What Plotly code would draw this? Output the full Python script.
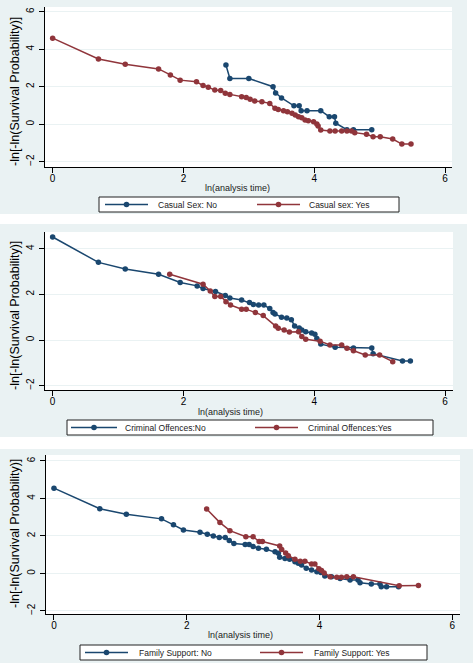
import plotly.graph_objects as go

# ---------------- data ----------------
# Panel 1: Casual sex
cs_no_x = [2.65, 2.71, 3.00, 3.37, 3.41, 3.50, 3.69, 3.77, 3.80, 3.89, 4.10, 4.23, 4.31, 4.33, 4.50, 4.60, 4.88]
cs_no_y = [3.16, 2.44, 2.44, 2.00, 1.67, 1.40, 0.98, 0.98, 0.72, 0.72, 0.72, 0.40, 0.40, 0.05, -0.29, -0.29, -0.29]
cs_yes_x = [0, 0.70, 1.11, 1.62, 1.80, 1.95, 2.20, 2.30, 2.38, 2.48, 2.57, 2.64, 2.71, 2.89, 2.96, 3.02, 3.09,
            3.20, 3.32, 3.40, 3.45, 3.53, 3.59, 3.66, 3.71, 3.76, 3.81, 3.86, 3.91, 3.99, 4.04, 4.06, 4.10,
            4.24, 4.32, 4.42, 4.50, 4.57, 4.62, 4.80, 4.90, 5.01, 5.20, 5.34, 5.48]
cs_yes_y = [4.59, 3.48, 3.20, 2.95, 2.63, 2.35, 2.26, 2.06, 1.97, 1.82, 1.80, 1.65, 1.59, 1.47, 1.43, 1.33, 1.24,
            1.20, 1.11, 0.85, 0.79, 0.72, 0.67, 0.58, 0.49, 0.40, 0.35, 0.22, 0.19, 0.13, 0.01, -0.10, -0.31,
            -0.36, -0.36, -0.36, -0.36, -0.36, -0.45, -0.54, -0.67, -0.67, -0.79, -1.06, -1.06]

# Panel 2: Criminal offences
co_no_x = [0, 0.70, 1.11, 1.62, 1.95, 2.21, 2.30, 2.49, 2.64, 2.71, 2.89, 3.01, 3.07, 3.15, 3.23, 3.32, 3.37,
           3.40, 3.50, 3.58, 3.65, 3.70, 3.77, 3.81, 3.87, 3.96, 4.01, 4.04, 4.10, 4.32, 4.60, 4.88, 4.90,
           5.35, 5.47]
co_no_y = [4.51, 3.40, 3.11, 2.88, 2.52, 2.37, 2.25, 2.12, 1.95, 1.84, 1.75, 1.64, 1.56, 1.53, 1.53, 1.38, 1.20,
           1.14, 1.00, 0.96, 0.89, 0.61, 0.52, 0.44, 0.36, 0.31, 0.25, 0.07, -0.18, -0.32, -0.35, -0.35, -0.60,
           -0.92, -0.92]
co_yes_x = [1.79, 2.30, 2.41, 2.48, 2.57, 2.65, 2.72, 2.89, 2.96, 3.10, 3.22, 3.41, 3.45, 3.54, 3.62, 3.76,
            3.81, 3.87, 4.09, 4.24, 4.42, 4.50, 4.60, 4.78, 5.00, 5.20]
co_yes_y = [2.88, 2.44, 2.15, 1.90, 1.90, 1.68, 1.53, 1.35, 1.35, 1.20, 1.07, 0.61, 0.51, 0.44, 0.35, 0.36,
            0.15, 0.03, -0.05, -0.22, -0.22, -0.36, -0.47, -0.66, -0.66, -0.95]

# Panel 3: Family support
fs_no_x = [0, 0.69, 1.09, 1.62, 1.80, 1.95, 2.20, 2.31, 2.40, 2.49, 2.58, 2.64, 2.71, 2.88, 2.94, 3.00, 3.08,
           3.20, 3.33, 3.38, 3.40, 3.48, 3.55, 3.63, 3.68, 3.73, 3.80, 3.88, 3.96, 4.02, 4.08, 4.18, 4.31,
           4.46, 4.58, 4.61, 4.78, 4.91, 4.93, 5.01, 5.19]
fs_no_y = [4.55, 3.45, 3.16, 2.91, 2.59, 2.32, 2.20, 2.09, 2.00, 1.91, 1.91, 1.75, 1.59, 1.54, 1.54, 1.43, 1.34,
           1.29, 1.16, 1.07, 0.86, 0.80, 0.75, 0.62, 0.54, 0.45, 0.27, 0.18, 0.09, 0.04, -0.14, -0.18, -0.27,
           -0.36, -0.36, -0.50, -0.57, -0.57, -0.71, -0.71, -0.71]
fs_yes_x = [2.30, 2.50, 2.65, 2.89, 3.00, 3.09, 3.14, 3.40, 3.43, 3.49, 3.53, 3.63, 3.71, 3.78, 3.88, 3.93,
            3.99, 4.03, 4.07, 4.16, 4.26, 4.33, 4.41, 4.51, 5.20, 5.49]
fs_yes_y = [3.44, 2.71, 2.28, 1.96, 1.96, 1.70, 1.70, 1.46, 1.27, 1.09, 0.94, 0.76, 0.64, 0.64, 0.50, 0.50,
            0.25, 0.15, 0.02, -0.18, -0.21, -0.21, -0.18, -0.18, -0.66, -0.65]

x_ticks = [0, 2, 4, 6]
y_ticks_a = [-2, 0, 2, 4, 6]
y_ticks_b = [-2, 0, 2, 4]

NAVY = "#1A476F"
MAROON = "#90353B"
BG = "#EAF2F3"
FONT = "Liberation Sans, Arial, sans-serif"

W, H = 473, 663


def px(x):
    return x / W


def py(y):
    return 1 - y / H


fig = go.Figure()

panels = [
    dict(ax="", no=(cs_no_x, cs_no_y, "Casual Sex: No"), yes=(cs_yes_x, cs_yes_y, "Casual sex: Yes"),
         xdom=(45, 452), ydom=(7, 167), xr=(-0.117, 6.107), yr=(-2.283, 6.251), yt=y_ticks_a,
         box=(99, 399, 197, 212), items=((105, 148, 156), (257, 300, 307)),
         ytitle_y=92, xtitle=(237, 188)),
    dict(ax="2", no=(co_no_x, co_no_y, "Criminal Offences:No"), yes=(co_yes_x, co_yes_y, "Criminal Offences:Yes"),
         xdom=(45, 453), ydom=(232, 390), xr=(-0.117, 6.122), yr=(-2.19, 4.73), yt=y_ticks_b,
         box=(67, 433, 420, 435), items=((71, 117, 123), (255, 298, 306)),
         ytitle_y=316, xtitle=(230, 412)),
    dict(ax="3", no=(fs_no_x, fs_no_y, "Family Support: No"), yes=(fs_yes_x, fs_yes_y, "Family Support: Yes"),
         xdom=(46, 460), ydom=(455, 614), xr=(-0.12, 6.116), yr=(-2.17, 6.32), yt=y_ticks_a,
         box=(80, 427, 645, 660), items=((85, 128, 137), (260, 303, 312)),
         ytitle_y=534, xtitle=(240, 635)),
]

shapes = []
# white gaps between the three panels and right edge
for y0, y1 in ((214, 224), (437, 449)):
    shapes.append(dict(type="rect", xref="paper", yref="paper", x0=0, x1=1, y0=py(y1), y1=py(y0),
                       fillcolor="#fff", line=dict(width=0), layer="below"))
shapes.append(dict(type="rect", xref="paper", yref="paper", x0=px(467), x1=1, y0=py(449), y1=1,
                   fillcolor="#fff", line=dict(width=0), layer="below"))

annotations = []
layout_axes = {}
for p in panels:
    a = p["ax"]
    for (xs, ys, name), col in ((p["no"], NAVY), (p["yes"], MAROON)):
        fig.add_trace(go.Scatter(
            x=xs, y=ys, name=name, mode="lines+markers",
            line=dict(color=col, width=1.5),
            marker=dict(color=col, size=5.5, symbol="circle"),
            xaxis="x" + a, yaxis="y" + a, showlegend=False,
        ))
    layout_axes["xaxis" + a] = dict(
        domain=[px(p["xdom"][0]), px(p["xdom"][1])], range=list(p["xr"]),
        anchor="y" + a, tickvals=x_ticks, ticks="outside", ticklen=5, tickcolor="#000",
        showline=True, linecolor="#000", linewidth=1, showgrid=False, zeroline=False,
        ticklabelstandoff=-3,
        tickfont=dict(family=FONT, size=10, color="#000"), fixedrange=True,
    )
    layout_axes["yaxis" + a] = dict(
        domain=[py(p["ydom"][1]), py(p["ydom"][0])], range=list(p["yr"]),
        anchor="x" + a, tickvals=p["yt"], ticks="outside", ticklen=5, tickcolor="#000",
        showline=True, linecolor="#000", linewidth=1, showgrid=True, gridcolor=BG, gridwidth=1,
        zeroline=False, tickangle=-90, ticklabelstandoff=1,
        tickfont=dict(family=FONT, size=10, color="#000"), fixedrange=True,
    )
    # legend box (drawn as a key)
    bx0, bx1, by0, by1 = p["box"]
    shapes.append(dict(type="rect", xref="paper", yref="paper", x0=px(bx0), x1=px(bx1),
                       y0=py(by1), y1=py(by0), fillcolor="#fff", line=dict(color="#222", width=1)))
    ymid = (by0 + by1) / 2
    for (lx0, lx1, tx), (_, _, name), col in zip(p["items"], (p["no"], p["yes"]), (NAVY, MAROON)):
        shapes.append(dict(type="line", xref="paper", yref="paper", x0=px(lx0), x1=px(lx1),
                           y0=py(ymid), y1=py(ymid), line=dict(color=col, width=1.5)))
        cx = (lx0 + lx1) / 2
        shapes.append(dict(type="circle", xref="paper", yref="paper", x0=px(cx - 2.8), x1=px(cx + 2.8),
                           y0=py(ymid + 2.8), y1=py(ymid - 2.8), fillcolor=col, line=dict(color=col, width=0)))
        annotations.append(dict(
            text=name, x=px(tx), y=py(ymid), xref="paper", yref="paper", showarrow=False,
            xanchor="left", yanchor="middle", font=dict(family=FONT, size=8.5, color="#222"),
        ))
    annotations.append(dict(
        text="-ln[-ln(Survival Probability)]", x=px(15), y=py(p["ytitle_y"]),
        xref="paper", yref="paper", showarrow=False, textangle=-90,
        font=dict(family=FONT, size=12.5, color="#000"), xanchor="center", yanchor="middle",
    ))
    annotations.append(dict(
        text="ln(analysis time)", x=px(p["xtitle"][0]), y=py(p["xtitle"][1]),
        xref="paper", yref="paper", showarrow=False,
        font=dict(family=FONT, size=9, color="#222"), xanchor="center", yanchor="middle",
    ))

fig.update_layout(
    width=W, height=H, margin=dict(l=0, r=0, t=0, b=0),
    paper_bgcolor=BG, plot_bgcolor="#fff", showlegend=False,
    annotations=annotations, shapes=shapes,
    font=dict(family=FONT),
    **layout_axes,
)

fig.write_html(
    "out.html",
    config={"displayModeBar": False},
    post_script="document.body.style.margin='0';document.body.style.overflow='hidden';",
)
